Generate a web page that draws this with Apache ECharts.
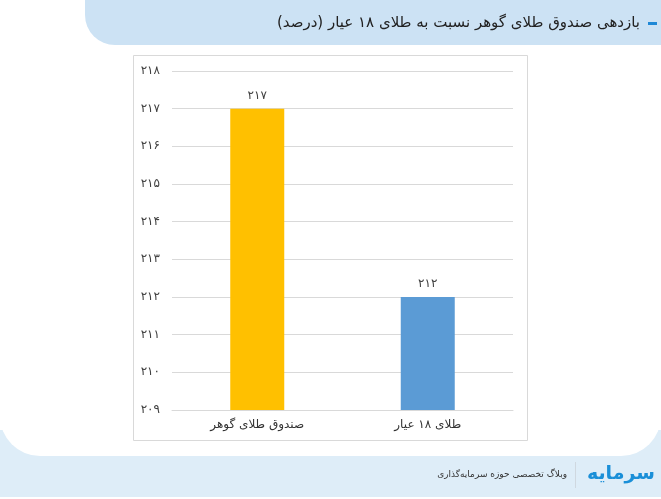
<!DOCTYPE html>
<html>
<head>
<meta charset="utf-8">
<script src="https://cdn.jsdelivr.net/npm/echarts@6/dist/echarts.min.js"></script>
<style>
  html, body { margin: 0; padding: 0; background: #ffffff; }
  #chart { width: 661px; height: 499px; }
</style>
</head>
<body>
<div id="chart"></div>
<script>
const chartTitle = "بازدهی صندوق طلای گوهر نسبت به طلای ۱۸ عیار (درصد)\u200F";
const categories = ["صندوق طلای گوهر", "طلای ۱۸ عیار"];
const values = [217, 212];
const barColors = ["#FFC000", "#5B9BD5"];
const yMin = 209;
const yMax = 218;
const footerText = "وبلاگ تخصصی حوزه سرمایه‌گذاری";
const logoText = "سرمایه";

// western digits -> persian digits
const faDigits = "۰۱۲۳۴۵۶۷۸۹";
const toFa = (v) => String(v).replace(/[0-9]/g, (d) => faDigits[+d]);

const FONT = "DejaVu Sans";
const chart = echarts.init(document.getElementById("chart"));

const option = {
  backgroundColor: "#ffffff",
  animation: false,
  textStyle: { fontFamily: FONT },
  graphic: [
    // footer band
    { type: "rect", z: -20, shape: { x: 0, y: 430, width: 661, height: 67 }, style: { fill: "#deedf8" } },
    // white card with rounded bottom corners
    { type: "rect", z: -19, shape: { x: 0, y: -20, width: 661, height: 476, r: [0, 0, 40, 40] }, style: { fill: "#ffffff" } },
    // title band
    { type: "rect", z: -18, shape: { x: 85, y: -20, width: 600, height: 65, r: [0, 0, 0, 30] }, style: { fill: "#cce2f4" } },
    { type: "rect", z: -17, shape: { x: 648, y: 22, width: 9, height: 3 }, style: { fill: "#1e88d6" } },
    {
      type: "text", z: -17, x: 640, y: 23,
      style: { text: chartTitle, font: "15px " + FONT, fill: "#222222", align: "right", verticalAlign: "middle" },
    },
    // chart frame
    { type: "rect", z: -16, shape: { x: 133.5, y: 55.5, width: 394, height: 385 }, style: { fill: "#ffffff", stroke: "#d9d9d9", lineWidth: 1 } },
    // footer logo + tagline
    {
      type: "text", z: -15, x: 655, y: 474,
      style: { text: logoText, font: "bold 19px " + FONT, fill: "#1a8fd8", align: "right", verticalAlign: "middle" },
    },
    { type: "rect", z: -15, shape: { x: 575, y: 462, width: 1, height: 26 }, style: { fill: "#cfd8e0" } },
    {
      type: "text", z: -15, x: 567, y: 475,
      style: { text: footerText, font: "9px " + FONT, fill: "#333333", align: "right", verticalAlign: "middle" },
    },
  ],
  grid: { left: 172, right: 148, top: 71, bottom: 89 },
  xAxis: {
    type: "category",
    data: categories,
    axisLine: { lineStyle: { color: "#d9d9d9" } },
    axisTick: { show: false },
    axisLabel: { color: "#333333", fontSize: 12, margin: 9, fontFamily: FONT },
  },
  yAxis: {
    type: "value",
    min: yMin,
    max: yMax,
    interval: 1,
    axisLine: { show: false },
    axisTick: { show: false },
    axisLabel: { color: "#404040", fontSize: 12, margin: 12, fontFamily: FONT, formatter: (v) => toFa(v) },
    splitLine: { lineStyle: { color: "#d9d9d9" } },
  },
  series: [
    {
      type: "bar",
      barWidth: 54,
      data: values.map((v, i) => ({ value: v, itemStyle: { color: barColors[i] } })),
      label: {
        show: true,
        position: "top",
        distance: 7,
        color: "#404040",
        fontSize: 12,
        fontFamily: FONT,
        formatter: (p) => toFa(p.value),
      },
    },
  ],
};

chart.setOption(option);
</script>
</body>
</html>
